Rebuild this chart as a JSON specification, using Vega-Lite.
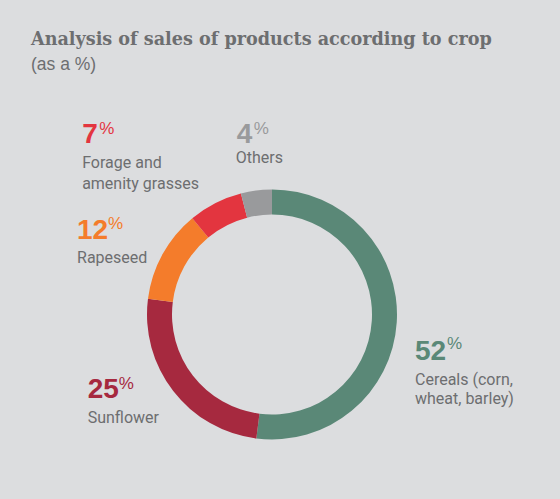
{
  "$schema": "https://vega.github.io/schema/vega-lite/v6.json",
  "width": 544,
  "height": 369,
  "autosize": {"type": "none"},
  "padding": {"left": 0, "top": 130, "right": 16, "bottom": 0},
  "background": "#dcdddf",
  "config": {"view": {"stroke": null}},
  "title": {
    "text": "Analysis of sales of products according to crop",
    "subtitle": "(as a %)",
    "anchor": "start",
    "frame": "group",
    "dx": 31,
    "offset": 46,
    "font": "DejaVu Serif",
    "fontSize": 17.6,
    "fontWeight": "bold",
    "color": "#6d6e70",
    "subtitleFont": "Liberation Sans",
    "subtitleFontSize": 17.5,
    "subtitleColor": "#6d6e70",
    "subtitlePadding": 7
  },
  "data": {
    "values": [
      {"crop": "Cereals", "label": "Cereals (corn,\nwheat, barley)", "share": 52},
      {"crop": "Sunflower", "label": "Sunflower", "share": 25},
      {"crop": "Rapeseed", "label": "Rapeseed", "share": 12},
      {"crop": "Forage", "label": "Forage and\namenity grasses", "share": 7},
      {"crop": "Others", "label": "Others", "share": 4}
    ]
  },
  "transform": [
    {"stack": "share", "groupby": [], "sort": [{"field": "share", "order": "descending"}], "as": ["start", "end"]}
  ],
  "encoding": {
    "theta": {"field": "start", "type": "quantitative", "scale": {"domain": [0, 100]}},
    "color": {
      "field": "crop", "type": "nominal", "legend": null,
      "scale": {
        "domain": ["Cereals", "Sunflower", "Rapeseed", "Forage", "Others"],
        "range": ["#5a8877", "#a6293f", "#f47c2b", "#e3353f", "#999a9c"]
      }
    }
  },
  "layer": [
    {"mark": {"type": "arc", "innerRadius": 100, "outerRadius": 125}, "encoding": {"theta2": {"field": "end"}}},

    {"transform": [{"filter": "datum.crop === 'Cereals'"}],
     "mark": {"type": "text", "radius": 130, "align": "left", "baseline": "alphabetic", "dx": 143, "dy": 175, "font": "Liberation Sans", "fontSize": 28, "fontWeight": "bold"},
     "encoding": {"text": {"field": "share"}}},
    {"transform": [{"filter": "datum.crop === 'Cereals'"}],
     "mark": {"type": "text", "radius": 130, "align": "left", "baseline": "top", "dx": 175, "dy": 151, "font": "Liberation Sans", "fontSize": 17, "text": "%"}},
    {"transform": [{"filter": "datum.crop === 'Cereals'"}],
     "mark": {"type": "text", "radius": 130, "align": "left", "baseline": "alphabetic", "dx": 143, "dy": 200, "font": "Roboto", "fontSize": 16, "lineBreak": "\n", "lineHeight": 19},
     "encoding": {"text": {"field": "label"}, "color": {"value": "#6d6e70"}}},

    {"transform": [{"filter": "datum.crop === 'Sunflower'"}],
     "mark": {"type": "text", "radius": 130, "align": "left", "baseline": "alphabetic", "dx": -168, "dy": -45, "font": "Liberation Sans", "fontSize": 28, "fontWeight": "bold"},
     "encoding": {"text": {"field": "share"}}},
    {"transform": [{"filter": "datum.crop === 'Sunflower'"}],
     "mark": {"type": "text", "radius": 130, "align": "left", "baseline": "top", "dx": -137, "dy": -67, "font": "Liberation Sans", "fontSize": 17, "text": "%"}},
    {"transform": [{"filter": "datum.crop === 'Sunflower'"}],
     "mark": {"type": "text", "radius": 130, "align": "left", "baseline": "alphabetic", "dx": -168, "dy": -20, "font": "Roboto", "fontSize": 16, "lineBreak": "\n"},
     "encoding": {"text": {"field": "label"}, "color": {"value": "#6d6e70"}}},

    {"transform": [{"filter": "datum.crop === 'Rapeseed'"}],
     "mark": {"type": "text", "radius": 130, "align": "left", "baseline": "alphabetic", "dx": -66, "dy": -59, "font": "Liberation Sans", "fontSize": 28, "fontWeight": "bold"},
     "encoding": {"text": {"field": "share"}}},
    {"transform": [{"filter": "datum.crop === 'Rapeseed'"}],
     "mark": {"type": "text", "radius": 130, "align": "left", "baseline": "top", "dx": -35, "dy": -82, "font": "Liberation Sans", "fontSize": 17, "text": "%"}},
    {"transform": [{"filter": "datum.crop === 'Rapeseed'"}],
     "mark": {"type": "text", "radius": 130, "align": "left", "baseline": "alphabetic", "dx": -66, "dy": -35, "font": "Roboto", "fontSize": 16, "lineBreak": "\n"},
     "encoding": {"text": {"field": "label"}, "color": {"value": "#6d6e70"}}},

    {"transform": [{"filter": "datum.crop === 'Forage'"}],
     "mark": {"type": "text", "radius": 130, "align": "left", "baseline": "alphabetic", "dx": -107, "dy": -71, "font": "Liberation Sans", "fontSize": 28, "fontWeight": "bold"},
     "encoding": {"text": {"field": "share"}}},
    {"transform": [{"filter": "datum.crop === 'Forage'"}],
     "mark": {"type": "text", "radius": 130, "align": "left", "baseline": "top", "dx": -90, "dy": -93, "font": "Liberation Sans", "fontSize": 17, "text": "%"}},
    {"transform": [{"filter": "datum.crop === 'Forage'"}],
     "mark": {"type": "text", "radius": 130, "align": "left", "baseline": "alphabetic", "dx": -107, "dy": -46, "font": "Roboto", "fontSize": 16, "lineBreak": "\n", "lineHeight": 21},
     "encoding": {"text": {"field": "label"}, "color": {"value": "#6d6e70"}}},

    {"transform": [{"filter": "datum.crop === 'Others'"}],
     "mark": {"type": "text", "radius": 130, "align": "left", "baseline": "alphabetic", "dx": -3, "dy": -46, "font": "Liberation Sans", "fontSize": 28, "fontWeight": "bold"},
     "encoding": {"text": {"field": "share"}}},
    {"transform": [{"filter": "datum.crop === 'Others'"}],
     "mark": {"type": "text", "radius": 130, "align": "left", "baseline": "top", "dx": 14, "dy": -68, "font": "Liberation Sans", "fontSize": 17, "text": "%"}},
    {"transform": [{"filter": "datum.crop === 'Others'"}],
     "mark": {"type": "text", "radius": 130, "align": "left", "baseline": "alphabetic", "dx": -4, "dy": -26, "font": "Roboto", "fontSize": 16, "lineBreak": "\n"},
     "encoding": {"text": {"field": "label"}, "color": {"value": "#6d6e70"}}}
  ]
}
